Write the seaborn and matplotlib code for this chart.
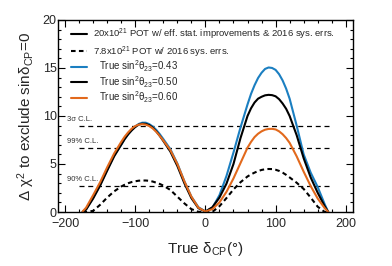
import matplotlib
matplotlib.use("Agg")
import matplotlib.pyplot as plt
import seaborn as sns
import pandas as pd
from matplotlib.lines import Line2D

# ---------------- data ----------------
delta = [-175, -170, -160, -150, -140, -130, -120, -115, -110, -105, -100, -95, -90, -85, -80, -75, -70, -65, -60,
         -50, -40, -30, -20, -10, 0, 10, 20, 30, 40, 50,
         60, 65, 70, 75, 80, 85, 90, 95, 100, 105, 110, 115, 120, 130, 140, 150, 160, 170, 175]

chi2_043 = [0.0, 0.3, 1.5, 2.85, 4.4, 5.9, 7.0, 7.6, 8.1, 8.55, 8.9, 9.17, 9.3, 9.3, 9.15, 8.9, 8.55, 8.1, 7.6,
            6.55, 5.05, 3.2, 1.6, 0.5, 0.05, 0.45, 1.75, 3.75, 6.2, 8.8,
            11.2, 12.3, 13.2, 13.95, 14.5, 14.9, 15.05, 15.0, 14.8, 14.35, 13.7, 12.85, 11.8, 9.0, 6.0, 4.1, 2.6, 0.8, 0.0]
chi2_050 = [0.0, 0.25, 1.4, 2.75, 4.3, 5.8, 7.0, 7.6, 8.1, 8.5, 8.85, 9.1, 9.2, 9.18, 9.05, 8.78, 8.4, 7.93, 7.4,
            6.3, 4.8, 3.0, 1.45, 0.4, 0.05, 0.5, 1.5, 2.95, 5.0, 7.7,
            10.0, 10.8, 11.4, 11.8, 12.0, 12.15, 12.2, 12.17, 12.05, 11.75, 11.3, 10.75, 10.0, 8.0, 5.6, 3.6, 2.0, 0.6, 0.0]
chi2_060 = [0.05, 0.45, 1.75, 3.1, 4.65, 6.1, 7.3, 7.85, 8.3, 8.68, 8.95, 9.1, 9.15, 9.1, 8.95, 8.7, 8.35, 7.92, 7.45,
            6.45, 5.0, 3.2, 1.6, 0.45, 0.05, 0.3, 1.0, 2.1, 3.5, 5.1,
            6.7, 7.3, 7.8, 8.15, 8.4, 8.57, 8.65, 8.66, 8.6, 8.4, 8.1, 7.7, 7.2, 5.8, 4.2, 2.7, 1.4, 0.4, 0.0]
chi2_old = [0.0, 0.0, 0.12, 0.75, 1.5, 2.15, 2.65, 2.84, 3.0, 3.12, 3.2, 3.26, 3.28, 3.28, 3.25, 3.17, 3.05, 2.92, 2.75,
            2.3, 1.6, 0.9, 0.3, 0.02, 0.0, 0.02, 0.6, 1.45, 2.35, 3.1,
            3.7, 3.92, 4.1, 4.26, 4.38, 4.45, 4.48, 4.47, 4.4, 4.28, 4.1, 3.87, 3.6, 3.05, 2.4, 1.5, 0.55, 0.0, 0.0]

cl_values = [9.0, 6.63, 2.71]
cl_labels = ["3σ C.L.", "99% C.L.", "90% C.L."]

legend_top = ["20x10$^{21}$ POT w/ eff. stat. improvements & 2016 sys. errs.",
              "7.8x10$^{21}$ POT w/ 2016 sys. errs."]
legend_bottom = ["True sin$^2$θ$_{23}$=0.43", "True sin$^2$θ$_{23}$=0.50", "True sin$^2$θ$_{23}$=0.60"]

blue = "#1b7fc1"
orange = "#e2691c"

# ---------------- style ----------------
sns.set_theme(style="ticks")
plt.rcParams["font.family"] = ["Liberation Sans", "DejaVu Sans"]
plt.rcParams["mathtext.fontset"] = "custom"
plt.rcParams["mathtext.rm"] = "Liberation Sans"
plt.rcParams["mathtext.it"] = "Liberation Sans:italic"
plt.rcParams["mathtext.sf"] = "Liberation Sans"

fig = plt.figure(figsize=(3.92, 2.66), dpi=100)
ax = fig.add_axes([0.148, 0.203, 0.752, 0.722])

df = pd.DataFrame({"delta": delta, "c043": chi2_043, "c050": chi2_050,
                   "c060": chi2_060, "cold": chi2_old})

# C.L. lines
for v, lab in zip(cl_values, cl_labels):
    ax.plot([-180, 180], [v, v], color="black", lw=0.9, ls=(0, (4, 3)))
    ax.text(-197, v + 0.3, lab, fontsize=5.5, color="#333333", ha="left", va="bottom")

sns.lineplot(data=df, x="delta", y="cold", ax=ax, color="black", lw=1.5,
             linestyle=(0, (2.2, 1.6)), sort=False, estimator=None)
sns.lineplot(data=df, x="delta", y="c043", ax=ax, color=blue, lw=1.5, sort=False, estimator=None)
sns.lineplot(data=df, x="delta", y="c050", ax=ax, color="black", lw=1.5, sort=False, estimator=None)
sns.lineplot(data=df, x="delta", y="c060", ax=ax, color=orange, lw=1.5, sort=False, estimator=None)

ax.set_xlim(-210, 210)
ax.set_ylim(0, 20)
ax.set_xticks([-200, -100, 0, 100, 200])
ax.set_yticks([0, 5, 10, 15, 20])
ax.set_xticks(range(-200, 201, 20), minor=True)
ax.set_yticks(range(0, 21, 1), minor=True)
ax.tick_params(which="both", direction="in", top=True, right=True, width=0.8, color="black")
ax.tick_params(which="major", length=5, labelsize=9)
ax.tick_params(axis="y", which="major", pad=1)
ax.tick_params(axis="x", which="major", pad=4.5)
ax.tick_params(which="minor", length=2.5)
for s in ax.spines.values():
    s.set_linewidth(1.0)
    s.set_color("black")

ax.set_xlabel("True δ$_{\\mathrm{CP}}$(°)", fontsize=11, labelpad=7)
ax.set_ylabel("Δ χ$^2$ to exclude sinδ$_{\\mathrm{CP}}$=0", fontsize=11, labelpad=4)

h1 = [Line2D([], [], color="black", lw=1.5),
      Line2D([], [], color="black", lw=1.5, ls=(0, (2.2, 1.6)))]
leg1 = ax.legend(h1, legend_top, loc="upper left", bbox_to_anchor=(0.044, 0.965),
                 frameon=False, fontsize=6.8, handlelength=1.7, handletextpad=0.63,
                 labelspacing=0.24, borderpad=0, borderaxespad=0)
ax.add_artist(leg1)
h2 = [Line2D([], [], color=blue, lw=1.5),
      Line2D([], [], color="black", lw=1.5),
      Line2D([], [], color=orange, lw=1.5)]
ax.legend(h2, legend_bottom, loc="upper left", bbox_to_anchor=(0.044, 0.80),
          frameon=False, fontsize=7, handlelength=1.64, handletextpad=1.23,
          labelspacing=0.0, borderpad=0, borderaxespad=0)

fig.savefig("out.png", dpi=100)
